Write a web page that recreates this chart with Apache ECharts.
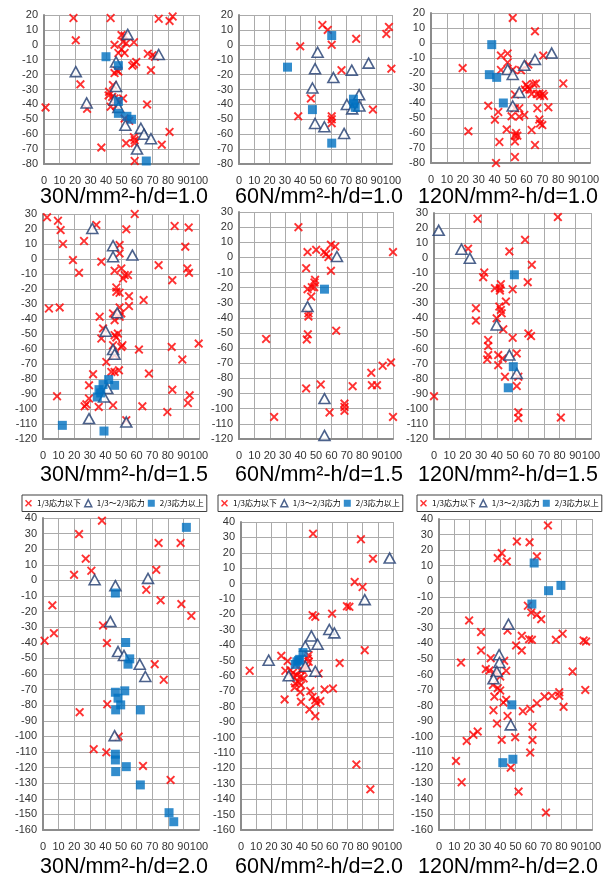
<!DOCTYPE html>
<html>
<head>
<meta charset="utf-8">
<script src="https://cdn.jsdelivr.net/npm/echarts@6/dist/echarts.min.js"></script>
<style>
  html, body { margin: 0; padding: 0; background: #fff; }
  #chart { width: 614px; height: 877px; }
</style>
</head>
<body>
<div id="chart"></div>
<script>
// Legend / series names
const seriesNames = ['1/3応力以下', '1/3～2/3応力', '2/3応力以上'];

// Panel titles (stress level - aspect ratio)
const panelTitles = [
  '30N/mm²-h/d=1.0', '60N/mm²-h/d=1.0', '120N/mm²-h/d=1.0',
  '30N/mm²-h/d=1.5', '60N/mm²-h/d=1.5', '120N/mm²-h/d=1.5',
  '30N/mm²-h/d=2.0', '60N/mm²-h/d=2.0', '120N/mm²-h/d=2.0'
];

// Y-axis ranges per row
const yRanges = [[-80, 20], [-120, 30], [-160, 40]];
const xRange = [0, 100];

// ---- 30N/mm2, h/d=1.0 ----
const low_30_10 = [[19,18],[43,18],[74,17.5],[83,19],[81,16],[20.5,3],[50,6.5],[52,6],[51,2],[53,1],[45.5,0],[58,1.7],[50,-3],[52,-5.5],[48,-5.5],[67,-6],[70,-7],[71.5,-8],[59.5,-11.5],[58,-13],[57,-14],[69,-17],[47,-17],[48,-18],[45.5,-19],[23.5,-26.5],[44.5,-27],[42,-31.5],[41.7,-34],[44,-35],[45.5,-36],[47.6,-37],[51,-36],[43,-41.5],[46.5,-41],[66.5,-40],[27.8,-43],[1,-42],[52,-49.5],[55,-51],[81,-58.5],[58,-62],[58.5,-64],[53,-66],[58.5,-66],[76,-67],[37,-69],[58.5,-78]];
const mid_30_10 = [[54,7],[74,-6.5],[46.5,-11.5],[20.5,-18],[46.5,-28],[27.5,-39],[45.5,-37],[48,-42],[52.5,-54],[62.5,-56],[64.5,-60],[69,-63],[60,-70]];
const high_30_10 = [[40,-8],[48,-14],[48,-38],[48,-46],[53.5,-48],[56.5,-50],[66,-78]];

// ---- 60N/mm2, h/d=1.0 ----
const low_60_10 = [[54.5,13.3],[58,10],[96.3,7.3],[98,12],[76.6,4],[60.6,0],[40,-1],[99.6,-16],[67,-17],[47,-36],[38.7,-48],[60.6,-48],[60.6,-50],[60.6,-52.6],[87.5,-43.5]];
const mid_60_10 = [[51.4,-5],[49.7,-16],[73.7,-17],[61.7,-22],[84.7,-12.3],[48,-29],[78.5,-33.5],[70.5,-40],[74,-43],[78.7,-41],[49.7,-52.8],[55.8,-55],[68.7,-59.5]];
const high_60_10 = [[60.6,6.2],[31.7,-15],[48,-43.5],[74.8,-36.5],[75,-39.5],[76,-42],[60.6,-66]];

// ---- 120N/mm2, h/d=1.0 ----
const low_120_10 = [[51.4,16.7],[65.4,7.8],[44,-8.4],[48.2,-7],[70.6,-8.4],[48.2,-13],[19.9,-16.7],[44,-18],[51.4,-17.8],[56.6,-18.2],[61.2,-14.4],[83.2,-27],[59.7,-27.8],[60.8,-29.3],[61.9,-31],[59,-31],[64.4,-27.3],[66,-27],[52.8,-34.4],[63.3,-34],[66.5,-34],[68.1,-33.7],[68.6,-35.3],[70.3,-34],[71.1,-35.3],[36,-41.8],[42.3,-46],[40.2,-51.1],[52.8,-43.5],[55.5,-43.5],[66.9,-43.5],[73.8,-42.9],[50.7,-48.9],[55.5,-49.1],[58.7,-48],[68.1,-51],[68.6,-53.6],[70,-54.7],[23.5,-58.9],[47.6,-57.6],[63.3,-58],[52.8,-61.8],[54.3,-61.8],[52.8,-65.6],[43,-66],[65.4,-68],[52.8,-76],[40.9,-80],[53.5,-60]];
const mid_120_10 = [[75.9,-6.7],[65.4,-11],[58.7,-14.9],[48.2,-17.6],[51.4,-21],[55.5,-33],[51.4,-42]];
const high_120_10 = [[38.2,-1.1],[36.7,-21.1],[41.3,-22.9],[45.5,-40]];

// ---- 30N/mm2, h/d=1.5 ----
const low_30_15 = [[2.6,27.8],[9.6,25.5],[11.3,19.3],[12.8,10],[34.2,22.7],[53.4,19.8],[58.8,30],[84.4,22],[93.4,21],[26.3,12],[49.1,9.3],[49.1,3.7],[37.4,-1.8],[19.2,-0.7],[23.1,-9.2],[45.9,-7.8],[50.2,-6.3],[52.4,-10.7],[54.5,-10.7],[51.3,-13],[74.1,-4.1],[91.2,8.2],[92.5,-6.3],[93.6,-9.2],[82.9,-14.1],[47,-19],[47,-21.9],[49.1,-22.5],[55.1,-24.8],[64.5,-27.4],[55.1,-31.4],[3.8,-33],[10.7,-32.3],[49.1,-32.3],[36.3,-38.5],[49.1,-38.5],[44.9,-36.3],[50.2,-36.3],[45.9,-40.8],[38.5,-46.3],[37.4,-53],[45.9,-50.8],[48,-49.7],[47,-52.3],[50.9,-57.5],[50.2,-58.6],[44.9,-57.5],[61.5,-60.4],[82.5,-58.6],[99.8,-56.4],[89.3,-67],[40.6,-68.6],[45.9,-64.1],[32.1,-76.8],[45.9,-75.3],[43.8,-75.3],[48.7,-74.2],[67.9,-76.4],[29.5,-84.2],[82.9,-87.1],[9,-91.5],[29.5,-93],[27.8,-96.9],[26.7,-98.2],[35.7,-98.6],[44.9,-97.5],[63.7,-98.2],[79.7,-102],[92.9,-96],[94,-90.9],[53.4,-107.5]];
const mid_30_15 = [[31.6,20.4],[44.9,8.9],[44.9,1.5],[57.3,2.6],[47.6,-35.9],[40.2,-48.1],[44.9,-60.4],[45.9,-63.5],[41.2,-86.4],[39.1,-92],[29.5,-106.4],[53.4,-108.7]];
const high_30_15 = [[42.1,-80.4],[38.5,-83.7],[35.9,-87.1],[45.9,-84.2],[34.8,-92],[37,-89.3],[12.4,-110.9],[39.1,-114.7]];

// ---- 60N/mm2, h/d=1.5 ----
const low_60_15 = [[38.6,20],[44.5,3.5],[50.1,5],[55.3,3.5],[56.6,2.2],[59.7,8.4],[62.5,7.2],[58.1,0.2],[100,3.5],[43.6,-7.1],[59.7,-8.9],[49.4,-14.8],[49,-16.6],[44.5,-21],[47.3,-19.7],[48.8,-19.7],[46.9,-25.9],[45.1,-36.9],[45.1,-39.1],[44.7,-50.8],[44,-54.2],[63.1,-48.4],[17.6,-53.9],[98.7,-69.4],[93.3,-71.6],[85.9,-76.3],[86.3,-84.4],[89.6,-84.4],[73.8,-85.1],[53.1,-84],[43.6,-86.6],[68.5,-96.6],[68.5,-98.8],[68.5,-101.4],[58.8,-102.5],[22.8,-105.4],[100,-105.4]];
const mid_60_15 = [[63.6,0.6],[44.5,-32.5],[55.5,-93.3],[55.5,-117.6]];
const high_60_15 = [[55.5,-21]];

// ---- 120N/mm2, h/d=1.5 ----
const low_120_15 = [[27.7,26.2],[78.9,27.3],[58,12.2],[21.7,6.3],[48,4.5],[62.3,-4.4],[32,-9.5],[31.3,-12.6],[42.6,-17.3],[42,-19.9],[38.8,-19.9],[50.1,-20.6],[59.7,-15.9],[42,-21.5],[45.8,-28.8],[41.6,-32.1],[42.6,-34.3],[43.1,-36.6],[26.7,-33.2],[26.7,-41.4],[39.9,-39.9],[44.1,-47.2],[50.1,-52.8],[60.1,-49.9],[61.8,-51.7],[34.5,-54.3],[34.5,-58.3],[34.5,-64.3],[33.9,-67.2],[40.9,-64.3],[40.9,-71],[43.7,-66.5],[52.7,-63.2],[45.2,-78.7],[52.7,-84.9],[53.7,-78.7],[0,-91.6],[53.7,-102.2],[53.7,-106.1],[80.8,-105.8]];
const mid_120_15 = [[3,18.5],[17.5,6],[22.8,0],[39.9,-44.3],[48,-64.3],[52.7,-76.5]];
const high_120_15 = [[51.2,-11],[50.5,-72],[47.3,-86]];

// ---- 30N/mm2, h/d=2.0 ----
const low_30_20 = [[37.8,38.3],[23.1,29.7],[27.4,13.9],[19.9,3.6],[31,6.2],[74.1,24],[88.2,24],[72.6,6.8],[66.2,-6],[75.4,-12.8],[88.7,-15.2],[95.1,-22.7],[6,-16],[7,-33.8],[1,-38.7],[38.5,-28.9],[41,-40.2],[71.6,-53.7],[77.4,-63.7],[41.2,-79.4],[23.5,-84.5],[48.5,-100.1],[32.5,-108.2],[40.6,-110.2],[64.1,-118.9],[81.8,-127.9]];
const mid_30_20 = [[33.1,0.4],[67.3,1.3],[46.4,-3.4],[43.2,-26.3],[48.1,-45.6],[51.9,-48.1],[62,-53.7],[65.6,-61.6],[45.9,-99.5]];
const high_30_20 = [[91.9,34],[46.4,-8.1],[53,-39.8],[55.6,-50.3],[54.5,-53.7],[46.4,-71.7],[52.4,-70.8],[48.1,-75.5],[49.8,-79.8],[46.6,-83],[62.4,-83],[46.4,-111.4],[46.4,-115.1],[46.6,-122.6],[53.4,-119.4],[62.4,-131.1],[80.8,-148.9],[83.8,-154.7]];

// ---- 60N/mm2, h/d=2.0 ----
const low_60_20 = [[47.4,32.4],[78.9,28.8],[86.8,16.2],[74.8,1.1],[80,-2.2],[69.7,-14.7],[71.3,-15.1],[47.1,-20.5],[48.9,-21.6],[59.9,-19.5],[81.4,-43.2],[64.9,-51.5],[44.5,-46.5],[43.9,-48.6],[44.5,-50.8],[26.5,-46.9],[30.7,-50.3],[5.7,-56.6],[29.2,-56.6],[32.5,-56.2],[34.2,-57.9],[34.6,-60.5],[36.8,-59.5],[39,-56.2],[39,-60.5],[41.2,-61.6],[35.7,-64.8],[37.5,-63.8],[39.5,-65.9],[40.4,-56.2],[43.4,-54.5],[51.1,-58.4],[28.7,-75.2],[35.3,-67.5],[39.5,-76.8],[39,-70.5],[45.6,-69.8],[47.1,-73.5],[48.9,-75.7],[49.6,-77.4],[52.2,-76.3],[55,-68.8],[60.5,-68.1],[45,-81.7],[48.9,-86.1],[75.9,-117.4],[85.1,-133.6]];
const mid_60_20 = [[97.8,16.6],[81.4,-10.4],[58.1,-29.8],[61.4,-32],[46.3,-34],[50.4,-39.4],[42.3,-40.6],[18.2,-49.7],[42.3,-53.6],[48.9,-56.9],[31.4,-59.9]];
const high_60_20 = [[40.8,-44.8],[38.6,-49.2],[36.8,-50.8],[35.7,-52.5],[37.9,-49.9]];

// ---- 120N/mm2, h/d=2.0 ----
const low_120_20 = [[71.2,35.9],[50.9,25.6],[59.2,25],[64,16],[41,18.1],[38.4,14.9],[44.3,12.7],[58.1,-15.8],[60.3,-20.1],[64,-21.6],[66.8,-24.4],[19.7,-25.2],[27.5,-32.7],[44.8,-31.7],[54.1,-35.1],[58.9,-37.3],[60.7,-37.7],[76.4,-37.7],[80.8,-33.8],[94.5,-38.1],[96.1,-38.8],[50.4,-41.3],[54.1,-44.5],[27.5,-44.5],[14.4,-52.3],[33.8,-49.5],[42.6,-51.2],[30.6,-56.5],[33,-57.4],[36.2,-59.1],[43.9,-57.6],[40,-61.3],[35.2,-66.7],[38.4,-68.8],[40,-70.3],[36.2,-74.2],[42.1,-78],[43.9,-76.3],[87.3,-58.1],[95.6,-69.9],[64,-78.5],[69,-74.2],[73.8,-73.7],[78.6,-73.7],[78.6,-71.4],[81.4,-80.8],[54.8,-83.6],[59.6,-82.1],[35.6,-83],[37.9,-91.5],[44.8,-86.7],[61.1,-93.6],[61.1,-102.2],[49.8,-100.3],[41,-102],[25.3,-96.7],[22.5,-98.8],[18.1,-102.7],[59.6,-110.2],[11.1,-115.6],[46.9,-119.9],[14.8,-129.3],[52,-135.3],[69.9,-148.8]];
const mid_120_20 = [[45.4,-27.6],[39.3,-47.3],[39.5,-52.3],[37.8,-58.1],[35.6,-62.8],[46.9,-92.4]];
const high_120_20 = [[62.2,11.7],[79.7,-2.7],[71.6,-6.1],[60.7,-14.7],[47.6,-79.5],[41.7,-116.7],[48.3,-114.5]];

const panelData = [
  [low_30_10, mid_30_10, high_30_10],
  [low_60_10, mid_60_10, high_60_10],
  [low_120_10, mid_120_10, high_120_10],
  [low_30_15, mid_30_15, high_30_15],
  [low_60_15, mid_60_15, high_60_15],
  [low_120_15, mid_120_15, high_120_15],
  [low_30_20, mid_30_20, high_30_20],
  [low_60_20, mid_60_20, high_60_20],
  [low_120_20, mid_120_20, high_120_20]
];

// Plot-area boxes [left, top, width, height] for the 3x3 layout
const boxes = [
  [44, 15, 155, 149], [239, 15, 153, 149], [431, 13, 159, 150],
  [43, 214, 156, 225], [239, 212, 154, 227], [434, 213, 157, 226],
  [43, 518, 156, 312], [241, 522, 152, 308], [439, 519, 153, 311]
];
const titleTops = [186, 464, 856];
const titleLefts = [40, 235, 418];

const crossPath = 'path://M0,1.5L1.5,0L5,3.5L8.5,0L10,1.5L6.5,5L10,8.5L8.5,10L5,6.5L1.5,10L0,8.5L3.5,5Z';
const RED = '#FF0000';
const NAVY = '#1F3B6F';
const BLUE = '#0070C0';
const labelFont = 'Liberation Sans, Arial, sans-serif';

const grids = [], xAxes = [], yAxes = [], series = [], titles = [];
for (let i = 0; i < 9; i++) {
  const [l, t, w, h] = boxes[i];
  const row = Math.floor(i / 3), col = i % 3;
  grids.push({ left: l, top: t, width: w, height: h, containLabel: false });
  xAxes.push({
    type: 'value', gridIndex: i, min: xRange[0], max: xRange[1], interval: 10,
    axisLine: { show: true, onZero: false, lineStyle: { color: '#8C8C8C', width: 2 } },
    axisTick: { show: false },
    axisLabel: { color: '#333', fontSize: 11, fontFamily: labelFont, margin: 11 },
    splitLine: { show: true, lineStyle: { color: '#ABABAB', width: 1 } }
  });
  yAxes.push({
    type: 'value', gridIndex: i, min: yRanges[row][0], max: yRanges[row][1], interval: 10,
    axisLine: { show: true, lineStyle: { color: '#8C8C8C', width: 2 } },
    axisTick: { show: false },
    axisLabel: { color: '#333', fontSize: 11, fontFamily: labelFont, margin: 6 },
    splitLine: { show: true, lineStyle: { color: '#ABABAB', width: 1 } }
  });
  const [lowPts, midPts, highPts] = panelData[i];
  series.push({
    name: seriesNames[0], type: 'scatter', xAxisIndex: i, yAxisIndex: i,
    data: lowPts, symbol: crossPath, symbolSize: 9,
    itemStyle: { color: RED }, emphasis: { disabled: true }
  });
  series.push({
    name: seriesNames[1], type: 'scatter', xAxisIndex: i, yAxisIndex: i,
    data: midPts, symbol: 'triangle', symbolSize: [11, 10],
    itemStyle: { color: '#FFFFFF', borderColor: NAVY, borderWidth: 1.6 },
    emphasis: { disabled: true }
  });
  series.push({
    name: seriesNames[2], type: 'scatter', xAxisIndex: i, yAxisIndex: i,
    data: highPts, symbol: 'rect', symbolSize: 9,
    itemStyle: { color: BLUE }, emphasis: { disabled: true }
  });
  titles.push({
    text: panelTitles[i], left: titleLefts[col], top: titleTops[row], padding: 0,
    textStyle: { fontSize: 21.5, fontWeight: 'normal', color: '#000', fontFamily: labelFont }
  });
}

// Legends sit above the bottom row of panels
const legendLefts = [22, 218, 417];
const legends = legendLefts.map(left => ({
  left: left, top: 495, orient: 'horizontal',
  padding: [4, 3], itemGap: 3, itemWidth: 7, itemHeight: 7,
  borderColor: '#404040', borderWidth: 1, backgroundColor: '#fff',
  selectedMode: false,
  textStyle: { fontSize: 8, color: '#000', fontFamily: 'Noto Sans CJK JP, sans-serif' },
  data: [
    { name: seriesNames[0], icon: crossPath, itemStyle: { color: RED } },
    { name: seriesNames[1], icon: 'triangle', itemStyle: { color: '#fff', borderColor: NAVY, borderWidth: 1.5 } },
    { name: seriesNames[2], icon: 'rect', itemStyle: { color: BLUE } }
  ]
}));

const chart = echarts.init(document.getElementById('chart'), null, { renderer: 'canvas' });
chart.setOption({
  animation: false,
  backgroundColor: '#fff',
  title: titles,
  legend: legends,
  grid: grids,
  xAxis: xAxes,
  yAxis: yAxes,
  series: series
});
</script>
</body>
</html>
